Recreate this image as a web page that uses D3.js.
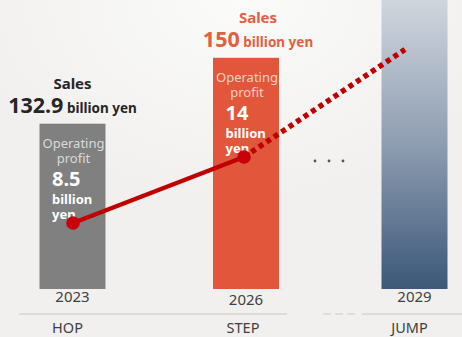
<!DOCTYPE html>
<html>
<head>
<meta charset="utf-8">
<script src="https://cdn.jsdelivr.net/npm/d3@7"></script>
<style>
  html, body { margin: 0; padding: 0; background: #f2f1f0; }
  svg { display: block; font-family: "Noto Sans", "Open Sans", sans-serif; }
</style>
</head>
<body>
<svg id="chart" width="462" height="337"></svg>
<script>
// Plan milestones
const years = ["2023", "2026", "2029"];
const phases = ["HOP", "STEP", "JUMP"];
// Sales (billion yen); the 2029 bar runs off the top and carries no label
const sales = [132.9, 150, 170];
const salesLabelled = [true, true, false];
// Operating profit (billion yen) for labelled years, plus the 2029 target end of the trend line
const profit = [8.5, 14];
const profitTarget = 23.5;

const W = 462, H = 337;
const svg = d3.select("#chart");
const defs = svg.append("defs");

// soft light glow along the top of the background
const glow = defs.append("radialGradient").attr("id", "glow")
  .attr("cx", 0.52).attr("cy", 0).attr("r", 0.6);
glow.append("stop").attr("offset", 0).attr("stop-color", "#fbfbfa");
glow.append("stop").attr("offset", 1).attr("stop-color", "#f1f0ef");
svg.append("rect").attr("width", W).attr("height", H).attr("fill", "url(#glow)");

// x positions of the milestones
const x = d3.scaleOrdinal().domain(years).range([72.5, 246, 414.5]);
const barW = 66;
// sales axis (bars start from a raised baseline)
const ySales = d3.scaleLinear().domain([90, 165]).range([289, 0]);
// operating profit axis for the trend line
const yProfit = d3.scaleLinear().domain([0, 25]).range([325, 25]);

const jumpGrad = defs.append("linearGradient").attr("id", "jumpGrad")
  .attr("gradientUnits", "userSpaceOnUse")
  .attr("x1", 0).attr("y1", 0).attr("x2", 0).attr("y2", ySales(90));
jumpGrad.append("stop").attr("offset", 0).attr("stop-color", "#d0d6de");
jumpGrad.append("stop").attr("offset", 0.5).attr("stop-color", "#8e9db1");
jumpGrad.append("stop").attr("offset", 1).attr("stop-color", "#3c5779");

const barFill = ["#808080", "#e2573b", "url(#jumpGrad)"];
const salesColor = ["#262626", "#e2603f"];
const salesShift = [0, 12];

const rows = years.map((y, i) => ({ year: y, phase: phases[i], sales: sales[i], i }));

// bars
svg.append("g").selectAll("rect").data(rows).join("rect")
  .attr("x", d => x(d.year) - barW / 2)
  .attr("y", d => ySales(d.sales))
  .attr("width", barW)
  .attr("height", d => ySales(90) - ySales(d.sales))
  .attr("fill", d => barFill[d.i]);

// year labels under bars
const yearDy = [302, 305, 302];
svg.append("g").selectAll("text").data(rows).join("text")
  .attr("x", d => x(d.year))
  .attr("y", d => yearDy[d.i])
  .attr("text-anchor", "middle")
  .attr("font-size", 15)
  .attr("fill", "#404040")
  .text(d => d.year);

// separator line with a dashed break
const sep = svg.append("g").attr("stroke", "#d6d6d6").attr("stroke-width", 1.5);
sep.append("line").attr("x1", 19).attr("x2", 287).attr("y1", 314).attr("y2", 314);
sep.append("line").attr("x1", 323).attr("x2", 358).attr("y1", 314).attr("y2", 314)
  .attr("stroke-dasharray", "8,4");
sep.append("line").attr("x1", 362).attr("x2", 462).attr("y1", 314).attr("y2", 314);

// phase labels
const phaseDy = [333, 333, 333];
svg.append("g").selectAll("text").data(rows).join("text")
  .attr("x", d => x(d.year) - (d.i === 1 ? 3 : 5))
  .attr("y", d => phaseDy[d.i])
  .attr("text-anchor", "middle")
  .attr("font-size", 14.5)
  .attr("fill", "#404040")
  .text(d => d.phase);

// sales labels above bars
const labelled = rows.filter(d => salesLabelled[d.i]);
const sl = svg.append("g").selectAll("g").data(labelled).join("g")
  .attr("transform", d => `translate(${x(d.year) + salesShift[d.i]},${ySales(d.sales)})`)
  .attr("fill", d => salesColor[d.i])
  .attr("font-weight", "bold")
  .attr("text-anchor", "middle");
sl.append("text").attr("y", -35).attr("font-size", 15).text("Sales");
const sv = sl.append("text").attr("y", -11);
sv.append("tspan").attr("font-size", 21.5).text(d => d3.format(".4~")(d.sales));
sv.append("tspan").attr("font-size", 13.5).text(" billion yen");

// operating profit labels inside bars
const withProfit = rows.filter(d => profit[d.i] != null);
const pl = svg.append("g").selectAll("g").data(withProfit).join("g")
  .attr("transform", d => `translate(${x(d.year) - barW / 2},${ySales(d.sales)})`);
const inner = pl.append("g").attr("fill", "rgba(255,255,255,0.72)").attr("font-size", 13)
  .attr("text-anchor", "middle");
inner.append("text").attr("x", barW / 2 + 1).attr("y", 24).text("Operating");
inner.append("text").attr("x", barW / 2 + 1).attr("y", 39.5).text("profit");
const strong = pl.append("g").attr("fill", "#ffffff").attr("font-weight", "bold");
strong.append("text").attr("x", 12.5).attr("y", 62).attr("font-size", 20)
  .text(d => d3.format(".2~")(profit[d.i]));
strong.append("text").attr("x", 12.5).attr("y", 80).attr("font-size", 13).text("billion");
strong.append("text").attr("x", 12.5).attr("y", 95).attr("font-size", 13).text("yen");

// operating profit trend: solid for the plan so far, dotted toward the target
const pts = profit.map((v, i) => [x(years[i]) + (i === 0 ? 0.5 : -2), yProfit(v)]);
const line = d3.line();
svg.append("path").attr("d", line(pts))
  .attr("fill", "none").attr("stroke", "#c00000").attr("stroke-width", 4.5);
const last = pts[pts.length - 1];
const target = [x(years[2]) - 9.5, yProfit(profitTarget) + 6.5];
svg.append("path").attr("d", line([last, target]))
  .attr("fill", "none").attr("stroke", "#c00000").attr("stroke-width", 5.5)
  .attr("stroke-dasharray", "5,4");
svg.append("g").selectAll("circle").data(pts).join("circle")
  .attr("cx", d => d[0]).attr("cy", d => d[1]).attr("r", 6.8)
  .attr("fill", "#c8000a");

// ellipsis between STEP and JUMP
svg.append("g").selectAll("circle").data([0, 1, 2]).join("circle")
  .attr("cx", d => 315 + d * 14).attr("cy", 161).attr("r", 1.4)
  .attr("fill", "#555");
</script>
</body>
</html>
